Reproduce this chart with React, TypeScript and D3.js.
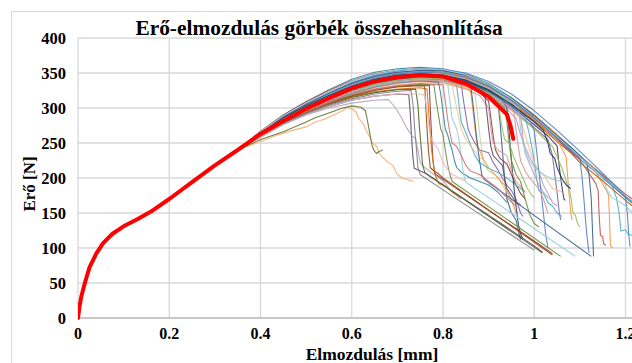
import React from 'react';
import * as d3 from 'd3';

const titleText = 'Erő-elmozdulás görbék összehasonlítása';
const xTitle = 'Elmozdulás [mm]';
const yTitle = 'Erő [N]';
const xTicks = [0, 0.2, 0.4, 0.6, 0.8, 1, 1.2];
const xTickLabels = ['0', '0.2', '0.4', '0.6', '0.8', '1', '1.2'];
const yTicks = [0, 50, 100, 150, 200, 250, 300, 350, 400];

// shared loading branch (all specimens coincide here)
const baseX = [0, 0.003, 0.007, 0.015, 0.025, 0.04, 0.055, 0.075, 0.1, 0.13, 0.16, 0.2, 0.25, 0.3, 0.35];
const baseY = [0, 15, 30, 50, 72, 92, 107, 120, 131, 141, 152, 170, 194, 218, 240];

// highlighted (red) curve after the shared branch
const redTail: [number, number][] = [[0.4,263],[0.443,279],[0.5,299],[0.55,314],[0.6,328],[0.65,338],[0.7,344],[0.75,347],[0.8,345],[0.85,335],[0.9,316],[0.94,291],[0.948,275],[0.954,256]];

const specimens: [number, number][][] = [
  [[0.4,266],[0.45,290],[0.5,309],[0.55,326],[0.6,341],[0.65,351],[0.7,356],[0.75,358],[0.8,356],[0.85,349],[0.9,335],[0.95,315],[1.0,290],[1.05,262],[1.1,232],[1.15,203],[1.2,172],[1.215,164]],
  [[0.4,267],[0.45,290],[0.5,309],[0.55,325],[0.6,339],[0.65,349],[0.7,354],[0.75,356],[0.8,354],[0.85,346],[0.9,331],[0.95,310],[1.0,285],[1.05,258],[1.08,240],[1.12,220],[1.16,199],[1.2,177],[1.215,170]],
  [[0.4,265],[0.45,288],[0.5,306],[0.55,322],[0.6,336],[0.65,347],[0.7,353],[0.75,356],[0.8,355],[0.85,350],[0.9,338],[0.95,320],[1.0,296],[1.05,268],[1.1,238],[1.15,207],[1.2,174],[1.215,166]],
  [[0.4,265],[0.45,288],[0.5,306],[0.55,322],[0.6,336],[0.65,346],[0.7,351],[0.75,353],[0.8,351],[0.85,344],[0.9,330],[0.95,309],[1.0,283],[1.05,255],[1.1,227],[1.15,200],[1.19,178],[1.2,172],[1.204,150],[1.207,120],[1.21,102]],
  [[0.4,264],[0.45,286],[0.5,304],[0.55,320],[0.6,334],[0.65,344],[0.7,350],[0.75,352],[0.8,351],[0.85,345],[0.9,332],[0.95,312],[1.0,287],[1.05,259],[1.1,230],[1.14,208],[1.17,190],[1.18,172],[1.186,150],[1.19,124],[1.2,126],[1.205,120],[1.215,118]],
  [[0.4,264],[0.45,286],[0.5,303],[0.55,318],[0.6,332],[0.65,342],[0.7,348],[0.75,350],[0.8,349],[0.85,342],[0.9,328],[0.95,308],[1.0,283],[1.05,255],[1.1,226],[1.135,192],[1.14,182],[1.142,150],[1.145,118],[1.15,116],[1.152,106],[1.157,104]],
  [[0.4,263],[0.45,284],[0.5,301],[0.55,316],[0.6,330],[0.65,340],[0.7,347],[0.75,350],[0.8,350],[0.85,345],[0.9,333],[0.95,314],[1.0,290],[1.05,262],[1.1,232],[1.13,214],[1.16,180],[1.163,175],[1.165,140],[1.167,103],[1.172,100]],
  [[0.4,265],[0.45,287],[0.5,305],[0.55,321],[0.6,335],[0.65,345],[0.7,351],[0.75,354],[0.8,353],[0.85,347],[0.9,334],[0.95,314],[1.0,289],[1.05,260],[1.08,244],[1.1,232],[1.115,222],[1.12,205],[1.125,170],[1.128,120],[1.13,88]],
  [[0.4,266],[0.45,289],[0.5,307],[0.55,323],[0.6,338],[0.65,348],[0.7,354],[0.75,356],[0.8,355],[0.85,348],[0.9,334],[0.95,313],[1.0,287],[1.05,259],[1.1,230],[1.15,200],[1.16,182],[1.17,172],[1.18,168],[1.19,165],[1.2,160],[1.215,150]],
  [[0.4,264],[0.45,285],[0.5,302],[0.55,317],[0.6,330],[0.65,340],[0.7,346],[0.75,349],[0.8,348],[0.85,341],[0.9,327],[0.95,306],[1.0,281],[1.05,252],[1.08,236],[1.1,222],[1.15,196],[1.2,168],[1.215,160]],
  [[0.4,264],[0.45,285],[0.5,302],[0.55,317],[0.6,330],[0.65,340],[0.7,346],[0.75,348],[0.8,346],[0.85,338],[0.9,323],[0.95,302],[1.0,276],[1.03,260],[1.05,246],[1.055,215],[1.06,190],[1.065,170],[1.068,168]],
  [[0.4,262],[0.45,282],[0.5,298],[0.55,313],[0.6,326],[0.65,336],[0.7,342],[0.75,345],[0.8,343],[0.85,335],[0.9,320],[0.95,299],[1.0,272],[1.03,255],[1.04,232],[1.045,205],[1.05,180],[1.055,150],[1.058,140]],
  [[0.4,265],[0.45,286],[0.5,303],[0.55,318],[0.6,332],[0.65,342],[0.7,348],[0.75,350],[0.8,349],[0.85,342],[0.9,329],[0.95,309],[1.0,284],[1.05,255],[1.07,230],[1.072,212],[1.076,180],[1.08,150],[1.083,140]],
  [[0.4,261],[0.45,281],[0.5,297],[0.55,311],[0.6,324],[0.65,334],[0.7,340],[0.75,343],[0.8,341],[0.85,333],[0.9,318],[0.95,297],[1.0,270],[1.04,245],[1.06,215],[1.07,196],[1.08,175],[1.085,150],[1.09,147],[1.095,135],[1.1,130]],
  [[0.4,264],[0.45,285],[0.5,302],[0.55,318],[0.6,332],[0.65,342],[0.7,349],[0.75,351],[0.8,350],[0.85,344],[0.9,331],[0.95,311],[1.0,286],[1.05,257],[1.08,240],[1.1,228],[1.105,200],[1.11,160],[1.115,120],[1.12,93]],
  [[0.4,262],[0.45,282],[0.5,299],[0.55,314],[0.6,327],[0.65,337],[0.7,344],[0.75,347],[0.8,346],[0.85,339],[0.9,325],[0.95,304],[0.98,288],[0.99,260],[1.0,225],[1.005,200],[1.01,182],[1.02,178],[1.03,165],[1.04,160],[1.05,150],[1.06,145]],
  [[0.4,261],[0.45,280],[0.5,296],[0.55,310],[0.6,322],[0.65,331],[0.7,337],[0.75,340],[0.8,339],[0.85,332],[0.9,318],[0.95,297],[0.97,285],[0.98,262],[0.99,240],[1.0,222],[1.01,210],[1.02,205],[1.03,195],[1.04,185],[1.05,183],[1.06,180]],
  [[0.4,262],[0.45,282],[0.5,298],[0.55,312],[0.6,325],[0.65,334],[0.7,340],[0.75,343],[0.8,342],[0.85,335],[0.9,321],[0.93,305],[0.96,285],[0.97,262],[0.98,244],[0.99,230],[1.0,218],[1.01,210],[1.02,190],[1.03,178],[1.04,165],[1.05,160]],
  [[0.4,262],[0.45,281],[0.5,297],[0.55,311],[0.6,323],[0.65,333],[0.7,339],[0.75,342],[0.8,340],[0.85,332],[0.88,322],[0.9,310],[0.905,285],[0.91,260],[0.915,240],[0.925,228],[0.94,220],[0.95,205],[0.96,190],[0.97,178],[0.98,170]],
  [[0.4,263],[0.45,283],[0.5,300],[0.55,315],[0.6,328],[0.65,338],[0.7,345],[0.75,348],[0.8,346],[0.85,339],[0.88,330],[0.9,322],[0.92,310],[0.925,280],[0.93,240],[0.935,200],[0.94,170],[0.95,150],[0.96,140],[0.965,125],[0.97,112]],
  [[0.4,261],[0.45,280],[0.5,295],[0.55,309],[0.6,321],[0.65,330],[0.7,336],[0.75,339],[0.8,337],[0.85,328],[0.87,320],[0.875,295],[0.88,265],[0.885,240],[0.89,220],[0.9,210],[0.92,202],[0.93,190],[0.94,180],[0.95,170],[0.96,164]],
  [[0.4,262],[0.45,281],[0.5,297],[0.55,311],[0.6,324],[0.65,333],[0.7,339],[0.75,342],[0.8,341],[0.84,334],[0.845,310],[0.85,290],[0.855,270],[0.86,262],[0.87,250],[0.88,240],[0.9,236],[0.91,222],[0.92,212],[0.93,200],[0.94,190],[0.95,182],[0.96,170],[0.97,150],[0.975,145]],
  [[0.4,262],[0.45,282],[0.5,298],[0.55,312],[0.6,325],[0.65,335],[0.7,341],[0.75,344],[0.8,343],[0.82,340],[0.83,332],[0.835,305],[0.84,280],[0.85,265],[0.86,248],[0.87,232],[0.88,222],[0.9,214],[0.92,208],[0.94,200],[0.96,190],[0.98,180]],
  [[0.4,261],[0.45,281],[0.5,297],[0.55,310],[0.6,322],[0.65,331],[0.7,337],[0.75,340],[0.8,338],[0.85,330],[0.86,326],[0.865,300],[0.87,270],[0.875,248],[0.88,240],[0.89,225],[0.9,215],[0.92,200],[0.935,190],[0.945,175],[0.955,160],[0.96,150]],
  [[0.4,263],[0.45,283],[0.5,299],[0.55,314],[0.6,327],[0.65,337],[0.7,343],[0.75,346],[0.8,345],[0.85,338],[0.9,325],[0.93,312],[0.94,300],[0.945,265],[0.95,225],[0.955,190],[0.96,160],[0.965,135],[0.97,120],[0.975,113]],
  [[0.4,261],[0.45,280],[0.5,296],[0.55,309],[0.6,320],[0.65,329],[0.7,335],[0.75,338],[0.8,336],[0.85,327],[0.88,318],[0.9,300],[0.905,270],[0.91,250],[0.92,240],[0.94,232],[0.95,210],[0.96,195],[0.97,188],[0.98,180]],
  [[0.4,262],[0.45,281],[0.5,297],[0.55,311],[0.6,323],[0.65,332],[0.7,338],[0.75,341],[0.8,340],[0.85,333],[0.9,319],[0.935,300],[0.94,280],[0.945,250],[0.95,225],[0.96,205],[0.97,195],[0.98,170],[0.99,148],[1.0,135],[1.01,130]],
  [[0.4,263],[0.45,282],[0.5,298],[0.55,312],[0.6,325],[0.65,334],[0.7,340],[0.75,343],[0.8,341],[0.85,334],[0.9,320],[0.95,300],[0.97,290],[0.975,260],[0.98,235],[0.99,220],[1.0,205],[1.01,190],[1.02,180],[1.03,172],[1.04,168]],
  [[0.4,262],[0.45,282],[0.5,298],[0.55,313],[0.6,326],[0.65,336],[0.7,342],[0.75,345],[0.8,344],[0.85,337],[0.9,323],[0.95,303],[0.99,282],[1.0,268],[1.005,240],[1.01,210],[1.015,180],[1.02,150],[1.025,120],[1.03,100]],
  [[0.4,260],[0.45,279],[0.5,294],[0.55,307],[0.6,318],[0.65,327],[0.7,333],[0.75,336],[0.8,335],[0.82,332],[0.83,300],[0.84,270],[0.85,255],[0.86,246],[0.87,238],[0.88,230],[0.89,225]],
  [[0.4,259],[0.45,277],[0.5,291],[0.55,302],[0.6,311],[0.65,317],[0.7,320],[0.725,319],[0.728,295],[0.731,260],[0.734,230],[0.737,214],[0.76,207],[0.8,190],[0.9,147],[1.0,103],[1.018,94]],
  [[0.4,258],[0.45,276],[0.5,290],[0.55,300],[0.6,307],[0.65,311],[0.68,312],[0.69,305],[0.7,296],[0.71,285],[0.72,272],[0.73,262],[0.74,256],[0.745,240],[0.75,222],[0.76,215],[0.78,205],[0.8,196],[0.82,180],[0.84,170]],
  [[0.4,261],[0.45,280],[0.5,295],[0.55,308],[0.6,318],[0.65,326],[0.7,331],[0.75,333],[0.77,332],[0.772,300],[0.775,260],[0.778,225],[0.782,206],[0.8,198],[0.9,154],[1.0,110],[1.04,92]],
  [[0.4,260],[0.45,279],[0.5,294],[0.55,306],[0.6,316],[0.65,323],[0.7,327],[0.75,329],[0.765,327],[0.768,300],[0.772,265],[0.775,240],[0.78,215],[0.785,200],[0.79,192],[0.8,190],[0.81,186],[0.82,180],[0.83,176],[0.84,172]],
  [[0.4,261],[0.45,280],[0.5,295],[0.55,307],[0.6,318],[0.65,326],[0.7,331],[0.75,334],[0.78,333],[0.785,310],[0.79,290],[0.795,270],[0.8,262],[0.805,240],[0.81,220],[0.815,205],[0.82,195],[1.058,88]],
  [[0.4,262],[0.45,281],[0.5,296],[0.55,310],[0.6,321],[0.65,330],[0.7,336],[0.75,339],[0.79,337],[0.795,320],[0.8,295],[0.805,270],[0.81,262],[0.815,250],[0.82,240],[0.825,225],[0.83,215],[0.84,208],[0.86,200],[0.88,195],[0.9,190],[0.92,180],[0.94,165]],
  [[0.4,260],[0.45,279],[0.5,293],[0.55,305],[0.6,315],[0.65,322],[0.7,326],[0.74,327],[0.745,305],[0.748,275],[0.752,245],[0.755,220],[0.76,208],[0.8,190],[1.018,93]],
  [[0.4,261],[0.45,280],[0.5,295],[0.55,307],[0.6,317],[0.65,325],[0.7,330],[0.75,332],[0.76,331],[0.762,305],[0.765,270],[0.768,240],[0.772,215],[0.78,210],[0.79,206],[0.8,200],[1.04,90]],
  [[0.4,262],[0.45,281],[0.5,297],[0.55,311],[0.6,323],[0.65,332],[0.7,338],[0.75,341],[0.8,339],[0.81,336],[0.815,310],[0.82,285],[0.83,270],[0.835,255],[0.84,230],[0.845,205],[0.85,194],[1.09,88]],
  [[0.4,263],[0.45,283],[0.5,299],[0.55,314],[0.6,327],[0.65,337],[0.7,343],[0.75,346],[0.8,345],[0.85,338],[0.86,335],[0.865,310],[0.87,280],[0.875,250],[0.88,225],[0.885,205],[0.89,198],[1.125,88]],
  [[0.4,259],[0.45,277],[0.5,291],[0.55,302],[0.6,311],[0.65,317],[0.7,320],[0.75,320],[0.76,318],[0.765,295],[0.77,270],[0.775,255],[0.78,250],[0.79,240],[0.8,222],[0.81,212],[0.82,205],[0.83,202],[0.84,198],[0.85,196]],
  [[0.4,260],[0.45,278],[0.5,292],[0.55,304],[0.6,313],[0.65,320],[0.7,324],[0.73,325],[0.735,300],[0.738,270],[0.742,240],[0.745,215],[0.75,205],[0.8,183],[1.0,97]],
  [[0.4,262],[0.45,282],[0.5,298],[0.55,312],[0.6,325],[0.65,335],[0.7,341],[0.75,344],[0.8,343],[0.85,336],[0.89,325],[0.895,300],[0.9,270],[0.905,245],[0.91,232],[0.92,225],[0.93,218],[0.935,200],[0.94,185],[0.95,175],[0.96,165],[0.97,162]],
  [[0.4,264],[0.45,285],[0.5,302],[0.55,317],[0.6,331],[0.65,341],[0.7,347],[0.75,349],[0.8,348],[0.85,341],[0.9,328],[0.95,308],[0.965,300],[0.97,270],[0.975,250],[0.98,240],[0.99,225],[1.0,215],[1.02,205],[1.04,198],[1.06,195],[1.08,190]],
  [[0.4,262],[0.45,282],[0.5,298],[0.55,312],[0.6,325],[0.65,334],[0.7,340],[0.75,343],[0.8,342],[0.85,335],[0.9,321],[0.92,312],[0.925,290],[0.93,270],[0.935,255],[0.945,250],[0.955,230],[0.965,215],[0.975,200],[0.985,185],[0.995,175],[1.0,172]],
  [[0.4,261],[0.45,281],[0.5,296],[0.55,310],[0.6,322],[0.65,331],[0.7,337],[0.75,340],[0.8,339],[0.85,331],[0.9,318],[0.955,295],[0.96,270],[0.965,245],[0.97,225],[0.98,210],[0.99,200],[1.0,192],[1.01,185],[1.02,170],[1.03,150]],
  [[0.4,264],[0.45,286],[0.5,303],[0.55,318],[0.6,331],[0.65,341],[0.7,347],[0.75,349],[0.8,347],[0.85,340],[0.9,326],[0.95,305],[1.0,280],[1.02,268],[1.03,250],[1.035,235],[1.045,228],[1.05,215],[1.06,200],[1.07,190],[1.08,185]],
  [[0.4,261],[0.45,280],[0.5,295],[0.55,308],[0.6,319],[0.65,327],[0.7,332],[0.75,335],[0.8,333],[0.805,310],[0.81,285],[0.815,265],[0.82,250],[0.83,245],[0.84,232],[0.85,218],[0.86,210],[0.88,205],[0.9,195],[0.92,185],[0.94,172],[0.96,160]],
  [[0.4,252],[0.44,262],[0.47,268],[0.5,273],[0.52,280],[0.54,284],[0.56,290],[0.58,296],[0.59,301],[0.6,299],[0.61,294],[0.615,285],[0.625,278],[0.63,270],[0.64,258],[0.645,250],[0.655,245],[0.66,235],[0.67,228],[0.68,222],[0.69,218],[0.7,205],[0.71,200],[0.735,195]],
  [[0.4,255],[0.45,266],[0.5,280],[0.52,286],[0.55,293],[0.58,300],[0.6,303],[0.62,301],[0.63,296],[0.635,280],[0.64,262],[0.645,245],[0.65,238],[0.655,235],[0.66,238],[0.668,240]],
];

const seriesColors = [
  '#31859C','#C0504D','#4F81BD','#4F81BD','#4BACC6','#C0504D','#F79646','#385D8A','#93CDDD','#B65708',
  '#3F3151','#8064A2','#F79646','#9BBB59','#4F81BD','#4BACC6','#FAC090','#B2A1C7','#8C3836','#385D8A',
  '#C3D69B','#8064A2','#4BACC6','#F79646','#254061','#D99694','#71893F','#B2A1C7','#4F81BD','#FAC090',
  '#5C4776','#B2A1C7','#8C3836','#E46C0A','#71893F','#31859C','#4F6228','#984807','#93CDDD','#376092',
  '#E6B9B8','#7F7F7F','#5C4776','#93CDDD','#9BBB59','#D99694','#17375E','#CD7371','#F9AB6B','#5F7530',
];

const W = 632;
const H = 363;
const x = d3.scaleLinear().domain([0, 1.2]).range([78, 625.5]);
const y = d3.scaleLinear().domain([0, 400]).range([318, 38]);
const font = "'Liberation Serif', 'Times New Roman', serif";

const base: [number, number][] = baseX.map((v, i) => [v, baseY[i]]);
const line = d3.line<[number, number]>().x(d => x(d[0])).y(d => y(d[1]));

export default function App() {
  return (
    <svg width={W} height={H} style={{ position: 'absolute', left: 0, top: 0, background: '#fff' }}>
      <defs>
        <clipPath id="plotClip">
          <rect x={x(0)} y={y(400) - 2} width={W - x(0)} height={y(0) - y(400) + 4} />
        </clipPath>
      </defs>
      <rect x={11.5} y={11.5} width={W} height={H} fill="#fff" stroke="#D9D9D9" strokeWidth={1} />
      {yTicks.map(t => (
        <line key={'gy' + t} x1={x(0)} x2={W} y1={y(t)} y2={y(t)} stroke="#D9D9D9" strokeWidth={1.3} />
      ))}
      {xTicks.map(t => (
        <line key={'gx' + t} x1={x(t)} x2={x(t)} y1={y(400)} y2={y(0)} stroke="#D9D9D9" strokeWidth={1.3} />
      ))}
      <line x1={x(0)} x2={W} y1={y(0)} y2={y(0)} stroke="#BFBFBF" strokeWidth={1.3} />
      <g clipPath="url(#plotClip)">
        {specimens.map((tail, i) => (
          <path key={'s' + i} d={line(base.concat(tail)) || ''} fill="none"
            stroke={seriesColors[i % seriesColors.length]} strokeWidth={1.1} strokeOpacity={0.9} strokeLinejoin="round" />
        ))}
        <path d={line(base.concat(redTail)) || ''} fill="none" stroke="#FF0000" strokeWidth={4} strokeLinejoin="round" strokeLinecap="round" />
      </g>
      {yTicks.map(t => (
        <text key={'ty' + t} x={66} y={y(t)} dy="0.35em" textAnchor="end" fontFamily={font} fontWeight="bold" fontSize={16.5}>{t}</text>
      ))}
      {xTicks.map((t, i) => (
        <text key={'tx' + t} x={x(t)} y={339} textAnchor="middle" fontFamily={font} fontWeight="bold" fontSize={16}>{xTickLabels[i]}</text>
      ))}
      <text x={319} y={35} textAnchor="middle" fontFamily={font} fontWeight="bold" fontSize={21.4}>{titleText}</text>
      <text x={372} y={360} textAnchor="middle" fontFamily={font} fontWeight="bold" fontSize={17.5}>{xTitle}</text>
      <text transform={`translate(35,184) rotate(-90)`} textAnchor="middle" fontFamily={font} fontWeight="bold" fontSize={17}>{yTitle}</text>
    </svg>
  );
}
